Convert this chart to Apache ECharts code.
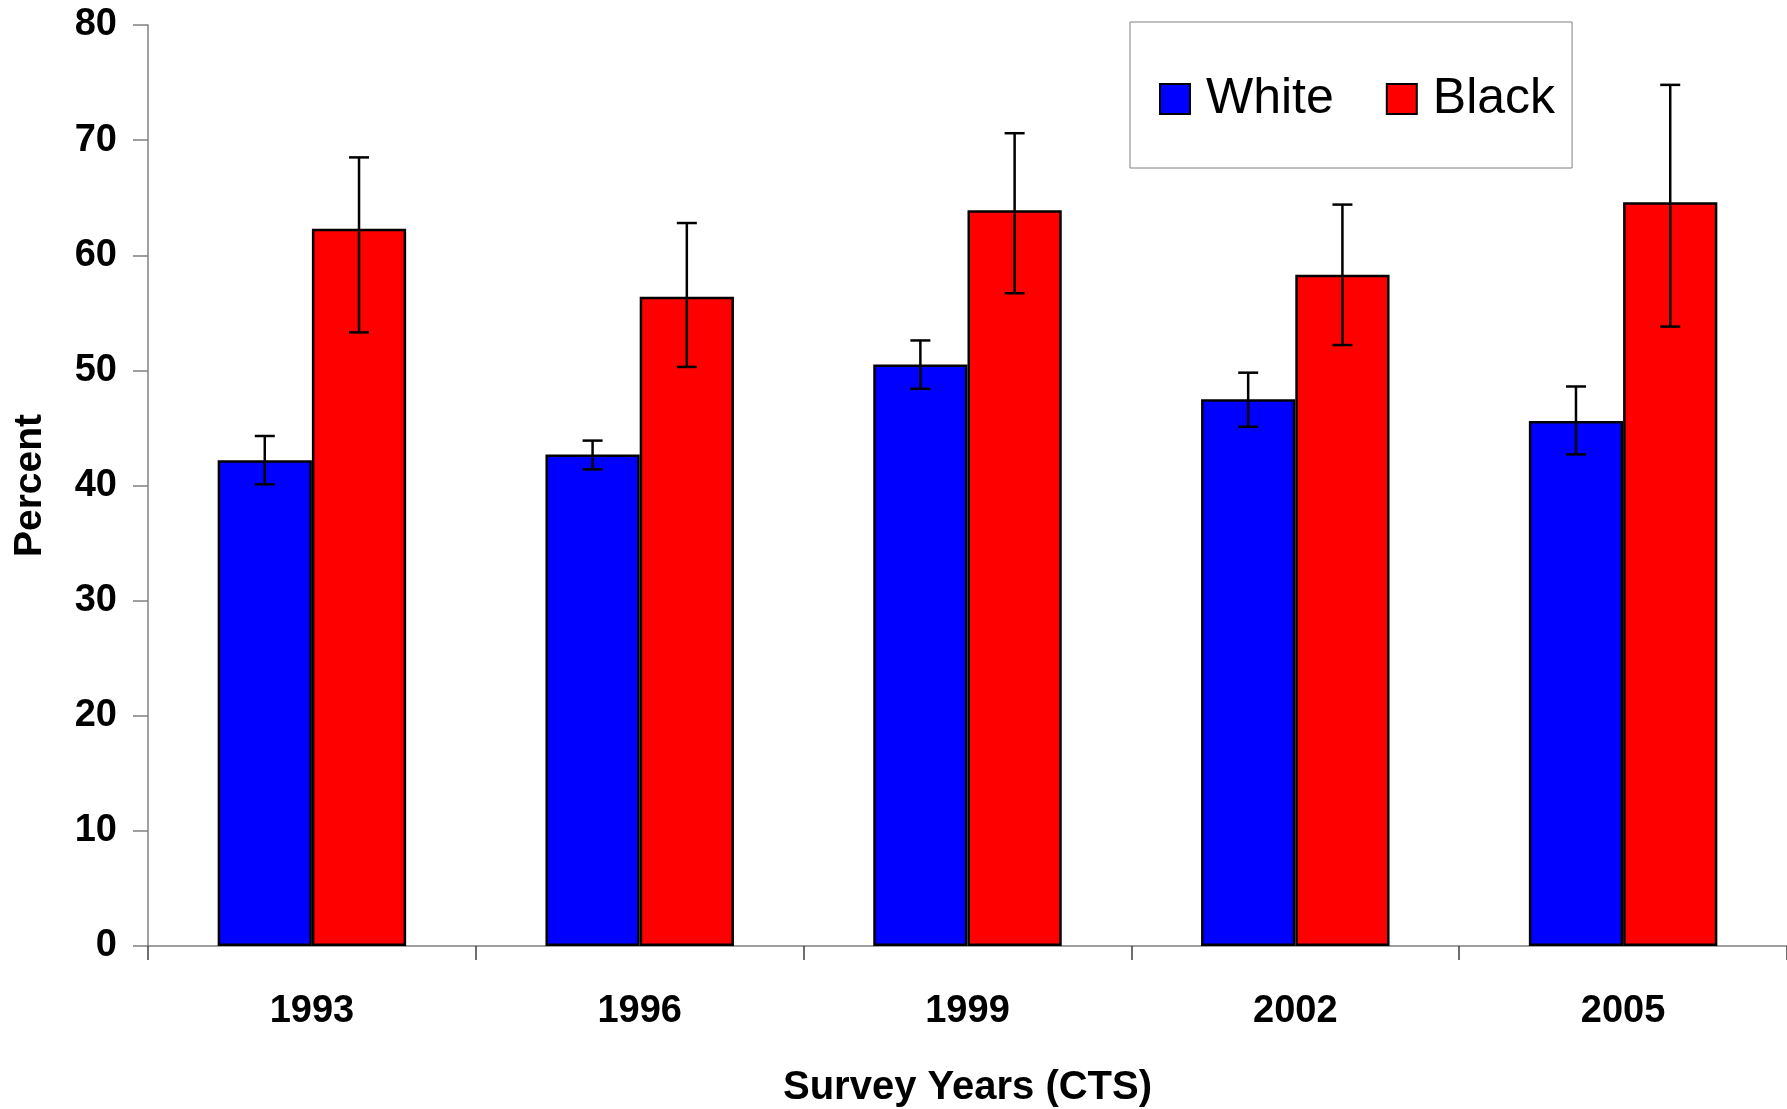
<!DOCTYPE html>
<html>
<head>
<meta charset="utf-8">
<script src="https://cdn.jsdelivr.net/npm/echarts@6/dist/echarts.min.js"></script>
<style>
html,body{margin:0;padding:0;background:#fff;}
#chart{width:1787px;height:1109px;}
</style>
</head>
<body>
<div id="chart"></div>
<script>
const categories = ['1993', '1996', '1999', '2002', '2005'];
const whiteValues = [42.2, 42.7, 50.5, 47.5, 45.6];
const whiteLow    = [40.1, 41.4, 48.4, 45.1, 42.7];
const whiteHigh   = [44.3, 43.9, 52.6, 49.8, 48.6];
const blackValues = [62.3, 56.4, 63.9, 58.3, 64.6];
const blackLow    = [53.3, 50.3, 56.7, 52.2, 53.8];
const blackHigh   = [68.5, 62.8, 70.6, 64.4, 74.8];
const yTicks = [0, 10, 20, 30, 40, 50, 60, 70, 80];

const FONT = '"Liberation Sans", Arial, sans-serif';
const CAT_GAP = 0.425;
const BAR_FRAC = (1 - CAT_GAP) / 2;

function errorSeries(name, lows, highs, sign) {
  return {
    type: 'custom',
    name: name + ' error',
    z: 5,
    silent: true,
    encode: { x: 0, y: [1, 2] },
    data: categories.map((c, i) => [i, lows[i], highs[i]]),
    renderItem: function (params, api) {
      const i = api.value(0);
      const lo = api.coord([i, api.value(1)]);
      const hi = api.coord([i, api.value(2)]);
      const band = api.size([1, 0])[0];
      const x = lo[0] + sign * band * BAR_FRAC / 2;
      const cap = 10;
      const st = { stroke: '#000', lineWidth: 2.5 };
      return {
        type: 'group',
        children: [
          { type: 'line', shape: { x1: x, y1: hi[1], x2: x, y2: lo[1] }, style: st },
          { type: 'line', shape: { x1: x - cap, y1: hi[1], x2: x + cap, y2: hi[1] }, style: st },
          { type: 'line', shape: { x1: x - cap, y1: lo[1], x2: x + cap, y2: lo[1] }, style: st }
        ]
      };
    }
  };
}

const chart = echarts.init(document.getElementById('chart'));
chart.setOption({
  backgroundColor: '#fff',
  animation: false,
  textStyle: { fontFamily: FONT },
  grid: { left: 148, right: 0, top: 25, bottom: 163, containLabel: false, outerBoundsMode: 'none' },
  legend: {
    data: ['White', 'Black'],
    left: 1130, top: 22,
    orient: 'horizontal',
    borderColor: '#808080', borderWidth: 1,
    padding: [52, 17, 44, 29],
    itemWidth: 30, itemHeight: 30, itemGap: 52,
    icon: 'rect',
    textStyle: { fontSize: 50, fontFamily: FONT, color: '#000', lineHeight: 50, padding: [0, 0, 0, 11] }
  },
  xAxis: {
    type: 'category',
    data: categories,
    boundaryGap: true,
    axisLine: { show: true, lineStyle: { color: '#808080', width: 1.5 } },
    axisTick: { show: true, length: 14, lineStyle: { color: '#404040', width: 1.5 } },
    axisLabel: { fontSize: 38, fontWeight: 'bold', color: '#000', margin: 47, fontFamily: FONT },
    name: 'Survey Years (CTS)',
    nameLocation: 'middle',
    nameGap: 122,
    nameTextStyle: { fontSize: 40, fontWeight: 'bold', color: '#000', fontFamily: FONT }
  },
  yAxis: {
    type: 'value',
    min: yTicks[0], max: yTicks[yTicks.length - 1], interval: 10,
    axisLine: { show: true, lineStyle: { color: '#808080', width: 1.5 } },
    axisTick: { show: true, length: 15, lineStyle: { color: '#808080', width: 1.5 } },
    splitLine: { show: false },
    axisLabel: { fontSize: 38, fontWeight: 'bold', color: '#000', margin: 31, fontFamily: FONT },
    name: 'Percent',
    nameLocation: 'middle',
    nameGap: 98,
    nameTextStyle: { fontSize: 39, fontWeight: 'bold', color: '#000', fontFamily: FONT }
  },
  series: [
    {
      name: 'White', type: 'bar', data: whiteValues,
      barGap: '0%', barCategoryGap: (CAT_GAP * 100) + '%',
      itemStyle: { color: '#0000FF', borderColor: '#000', borderWidth: 2.5 }
    },
    {
      name: 'Black', type: 'bar', data: blackValues,
      barGap: '0%', barCategoryGap: (CAT_GAP * 100) + '%',
      itemStyle: { color: '#FF0000', borderColor: '#000', borderWidth: 2.5 }
    },
    errorSeries('White', whiteLow, whiteHigh, -1),
    errorSeries('Black', blackLow, blackHigh, 1)
  ]
});
</script>
</body>
</html>
